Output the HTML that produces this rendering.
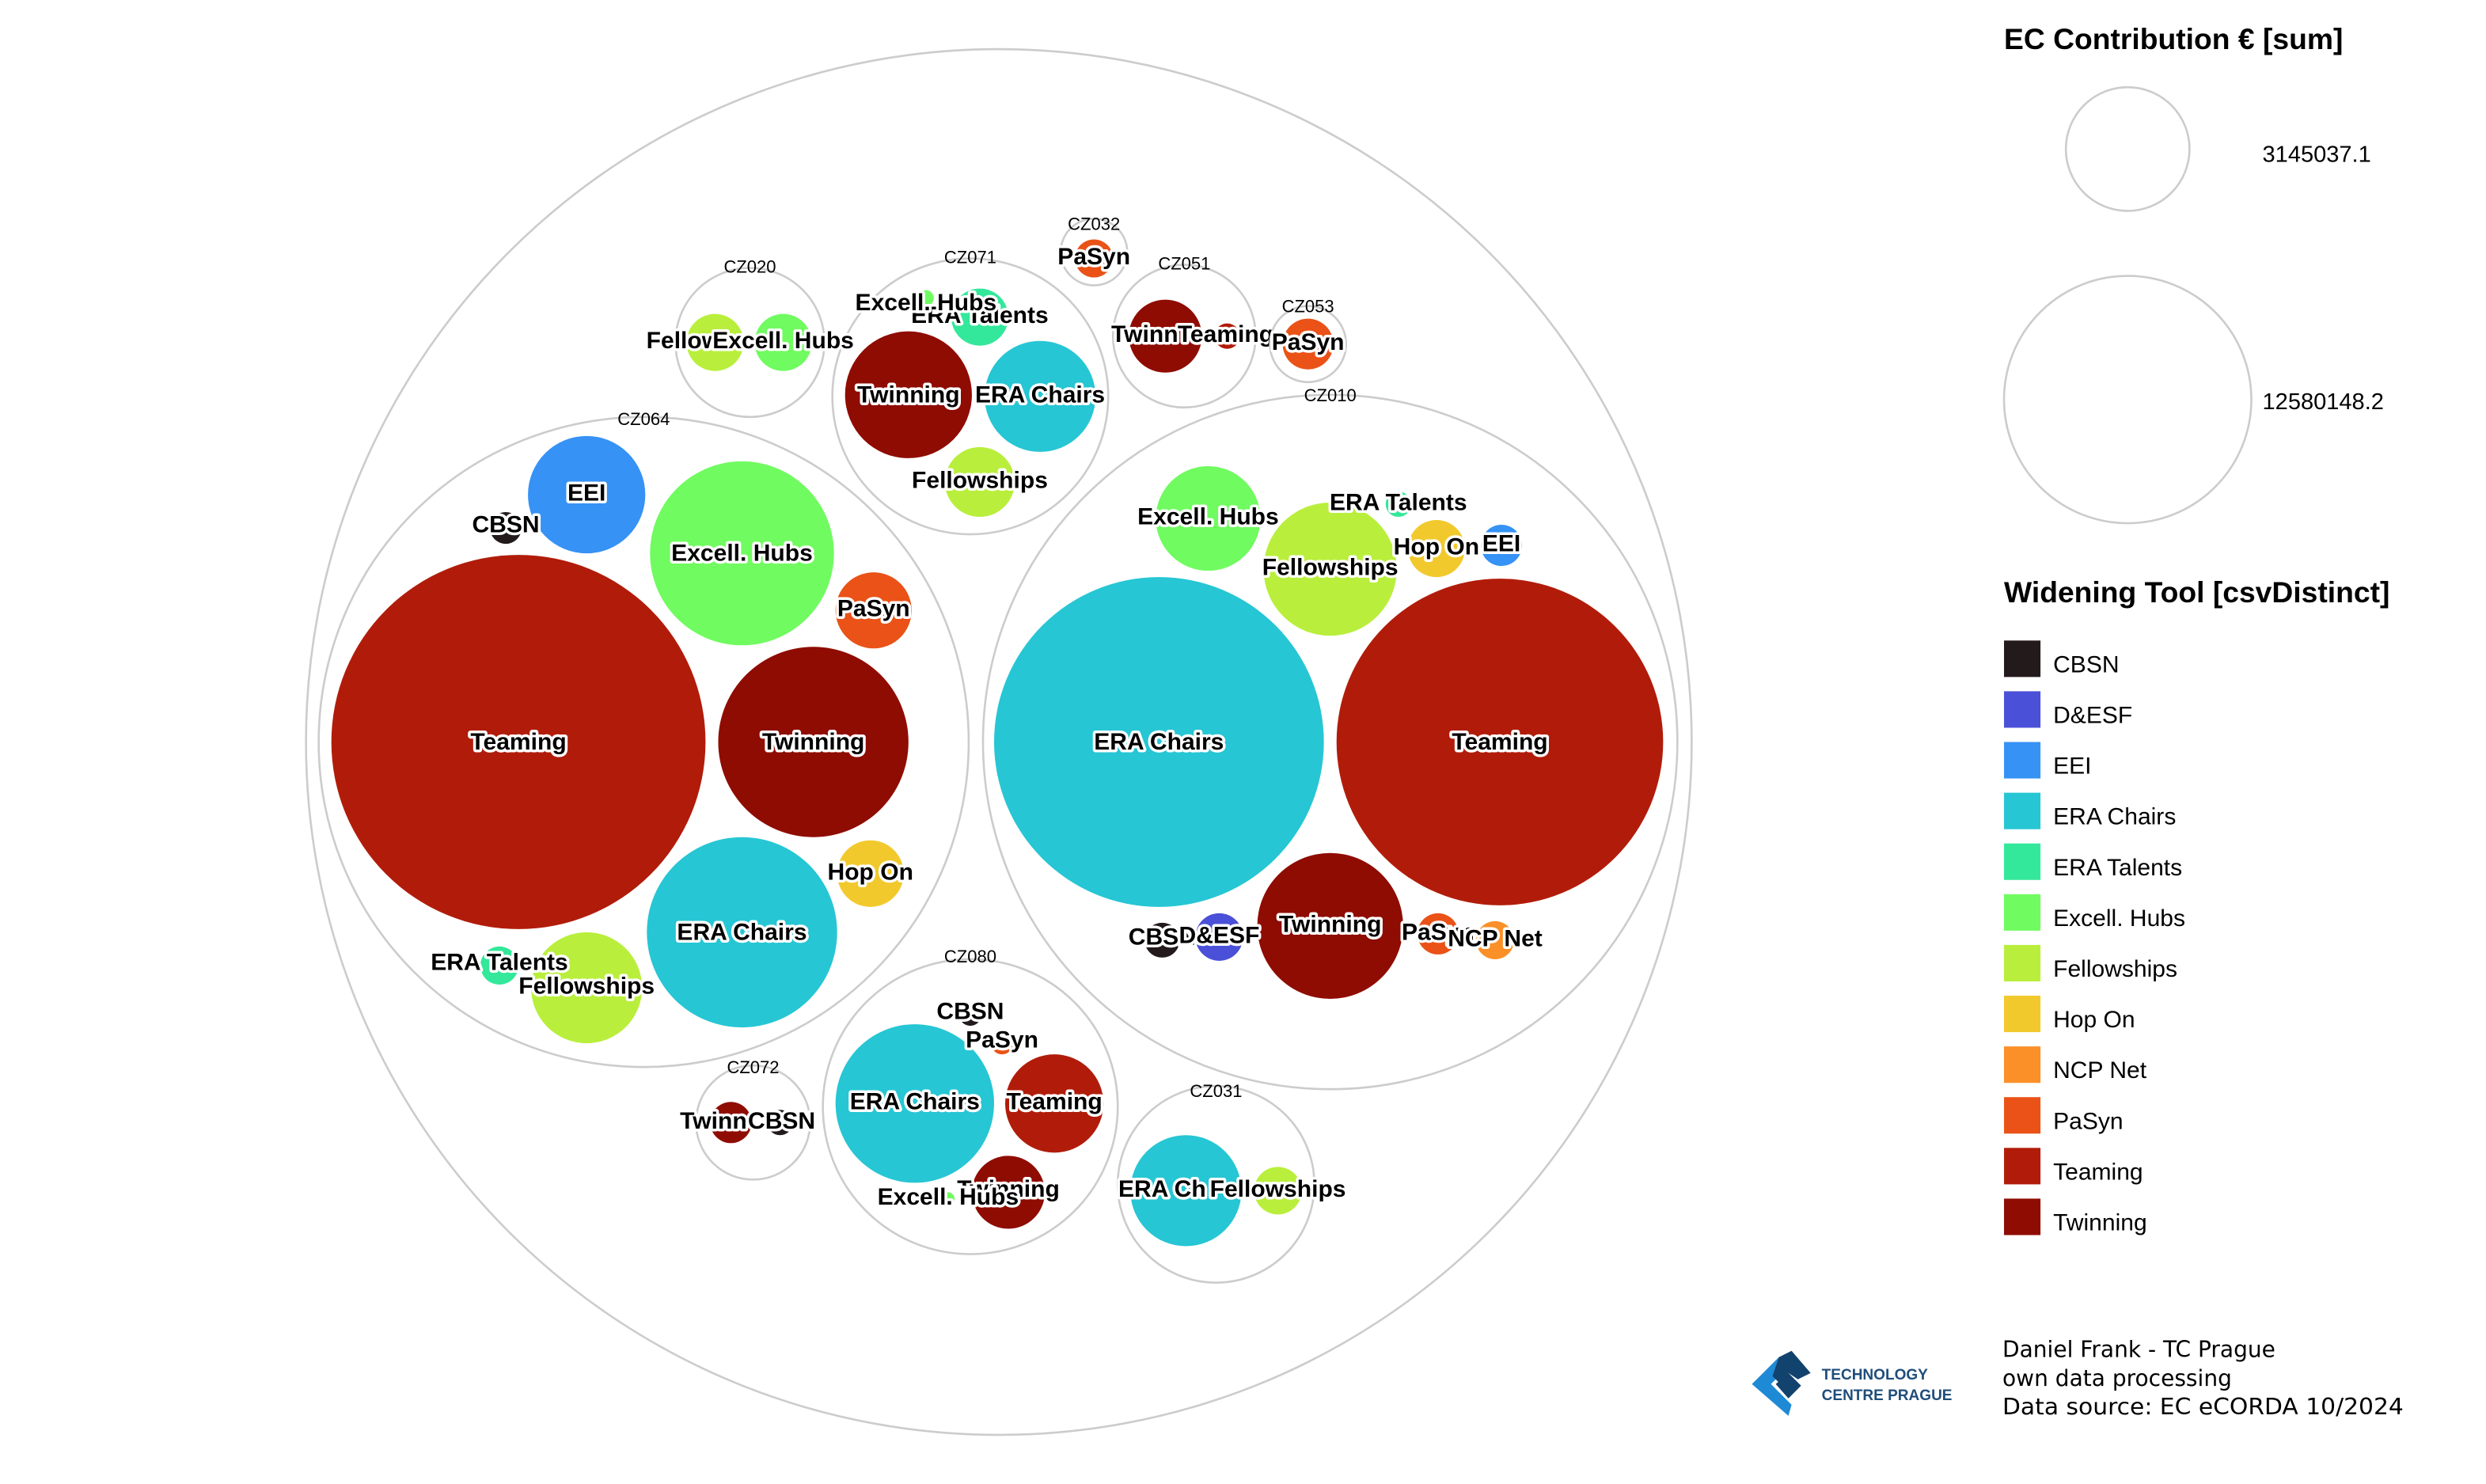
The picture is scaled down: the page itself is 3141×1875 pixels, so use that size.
<!DOCTYPE html>
<html><head><meta charset="utf-8"><style>
html,body{margin:0;padding:0;background:#fff;}
svg{display:block;}
.l{font-family:"Liberation Sans",Arial,sans-serif;font-weight:bold;font-size:15px;fill:#000;stroke:#fff;stroke-width:3.5px;paint-order:stroke;stroke-linejoin:round;text-anchor:middle;dominant-baseline:central;}
.g{font-family:"Liberation Sans",Arial,sans-serif;font-size:11px;fill:#000;text-anchor:middle;}
.o{fill:#fff;stroke:#ccc;stroke-width:1.3;}
.lg{font-family:"Liberation Sans",Arial,sans-serif;font-size:15px;fill:#000;}
.h{font-family:"Liberation Sans",Arial,sans-serif;font-size:18.6px;font-weight:bold;fill:#000;}
.f{font-family:"DejaVu Sans",sans-serif;font-size:14px;fill:#000;}
</style></head><body>
<svg width="3141" height="1875" viewBox="0 0 1568 936" preserveAspectRatio="none" xmlns="http://www.w3.org/2000/svg">
<rect width="1568" height="936" fill="#fff"/>
<circle class="o" cx="630" cy="468" r="437"/>
<!-- CZ064 -->
<circle class="o" cx="406" cy="468" r="205"/>
<text class="g" x="406" y="268">CZ064</text>
<circle cx="327" cy="468" r="118" fill="#b11c0a"/>
<circle cx="513" cy="468" r="60" fill="#8f0c02"/>
<circle cx="370" cy="312" r="37" fill="#3692f5"/>
<circle cx="319" cy="333" r="10" fill="#231a1c"/>
<circle cx="468" cy="349" r="58" fill="#70fb60"/>
<circle cx="551" cy="385" r="24" fill="#ea5217"/>
<circle cx="549" cy="551" r="21" fill="#f2c92d"/>
<circle cx="468" cy="588" r="60" fill="#26c6d4"/>
<circle cx="370" cy="623" r="35" fill="#b9ef3c"/>
<circle cx="315" cy="609" r="12" fill="#33e89a"/>
<text class="l" x="327" y="468">Teaming</text>
<text class="l" x="513" y="468">Twinning</text>
<text class="l" x="370" y="311">EEI</text>
<text class="l" x="319" y="331">CBSN</text>
<text class="l" x="468" y="349">Excell. Hubs</text>
<text class="l" x="551" y="384">PaSyn</text>
<text class="l" x="549" y="550">Hop On</text>
<text class="l" x="468" y="588">ERA Chairs</text>
<text class="l" x="315" y="607">ERA Talents</text>
<text class="l" x="370" y="622">Fellowships</text>
<!-- CZ010 -->
<circle class="o" cx="839" cy="468" r="219"/>
<text class="g" x="839" y="253">CZ010</text>
<circle cx="731" cy="468" r="104" fill="#26c6d4"/>
<circle cx="946" cy="468" r="103" fill="#b11c0a"/>
<circle cx="762" cy="327" r="33" fill="#70fb60"/>
<circle cx="839" cy="359" r="42" fill="#b9ef3c"/>
<circle cx="882" cy="318" r="8" fill="#33e89a"/>
<circle cx="906" cy="346" r="18" fill="#f2c92d"/>
<circle cx="947" cy="344" r="13" fill="#3692f5"/>
<circle cx="839" cy="584" r="46" fill="#8f0c02"/>
<circle cx="733" cy="593" r="11" fill="#231a1c"/>
<circle cx="769" cy="591" r="15" fill="#4a50d8"/>
<circle cx="907" cy="589" r="13" fill="#ea5217"/>
<circle cx="943" cy="593" r="12" fill="#fb9028"/>
<text class="l" x="731" y="468">ERA Chairs</text>
<text class="l" x="946" y="468">Teaming</text>
<text class="l" x="762" y="326">Excell. Hubs</text>
<text class="l" x="882" y="317">ERA Talents</text>
<text class="l" x="839" y="358">Fellowships</text>
<text class="l" x="906" y="345">Hop On</text>
<text class="l" x="947" y="343">EEI</text>
<text class="l" x="839" y="583">Twinning</text>
<text class="l" x="733" y="591">CBSN</text>
<text class="l" x="769" y="590">D&amp;ESF</text>
<text class="l" x="907" y="588">PaSyn</text>
<text class="l" x="943" y="592">NCP Net</text>
<!-- CZ071 -->
<circle class="o" cx="612" cy="250" r="87"/>
<text class="g" x="612" y="166">CZ071</text>
<circle cx="573" cy="249" r="40" fill="#8f0c02"/>
<circle cx="656" cy="250" r="35" fill="#26c6d4"/>
<circle cx="618" cy="304" r="22" fill="#b9ef3c"/>
<circle cx="618" cy="200" r="18" fill="#33e89a"/>
<circle cx="584" cy="188" r="5" fill="#70fb60"/>
<text class="l" x="618" y="199">ERA Talents</text>
<text class="l" x="584" y="191">Excell. Hubs</text>
<text class="l" x="573" y="249">Twinning</text>
<text class="l" x="656" y="249">ERA Chairs</text>
<text class="l" x="618" y="303">Fellowships</text>
<!-- CZ020 -->
<circle class="o" cx="473" cy="216" r="47"/>
<text class="g" x="473" y="172">CZ020</text>
<circle cx="451" cy="216" r="18" fill="#b9ef3c"/>
<circle cx="494" cy="216" r="18" fill="#70fb60"/>
<text class="l" x="431" y="215">Fellow</text>
<text class="l" x="494" y="215">Excell. Hubs</text>
<!-- CZ032 -->
<circle class="o" cx="690" cy="159" r="21"/>
<text class="g" x="690" y="145">CZ032</text>
<circle cx="690" cy="163" r="12" fill="#ea5217"/>
<text class="l" x="690" y="162">PaSyn</text>
<!-- CZ051 -->
<circle class="o" cx="747" cy="212" r="45"/>
<text class="g" x="747" y="170">CZ051</text>
<circle cx="735" cy="212" r="23" fill="#8f0c02"/>
<circle cx="774" cy="212" r="8" fill="#b11c0a"/>
<text class="l" x="722" y="211">Twinn</text>
<text class="l" x="773" y="211">Teaming</text>
<!-- CZ053 -->
<circle class="o" cx="825" cy="217" r="24"/>
<text class="g" x="825" y="197">CZ053</text>
<circle cx="825" cy="217" r="16" fill="#ea5217"/>
<text class="l" x="825" y="216">PaSyn</text>
<!-- CZ080 -->
<circle class="o" cx="612" cy="698" r="93"/>
<text class="g" x="612" y="607">CZ080</text>
<circle cx="577" cy="696" r="50" fill="#26c6d4"/>
<circle cx="665" cy="696" r="31" fill="#b11c0a"/>
<circle cx="636" cy="752" r="23" fill="#8f0c02"/>
<circle cx="612" cy="640" r="7" fill="#231a1c"/>
<circle cx="632" cy="658" r="7" fill="#ea5217"/>
<circle cx="598" cy="756" r="4" fill="#70fb60"/>
<text class="l" x="612" y="638">CBSN</text>
<text class="l" x="632" y="656">PaSyn</text>
<text class="l" x="577" y="695">ERA Chairs</text>
<text class="l" x="665" y="695">Teaming</text>
<text class="l" x="636" y="750">Twinning</text>
<text class="l" x="598" y="755">Excell. Hubs</text>
<!-- CZ072 -->
<circle class="o" cx="475" cy="708" r="36"/>
<text class="g" x="475" y="677">CZ072</text>
<circle cx="461" cy="708" r="13" fill="#8f0c02"/>
<circle cx="492" cy="708" r="8" fill="#231a1c"/>
<text class="l" x="450" y="707">Twinn</text>
<text class="l" x="493" y="707">CBSN</text>
<!-- CZ031 -->
<circle class="o" cx="767" cy="747" r="62"/>
<text class="g" x="767" y="692">CZ031</text>
<circle cx="748" cy="751" r="35" fill="#26c6d4"/>
<circle cx="806" cy="751" r="15" fill="#b9ef3c"/>
<text class="l" x="733" y="750">ERA Ch</text>
<text class="l" x="806" y="750">Fellowships</text>
<!-- Legend -->
<text class="h" x="1264" y="31">EC Contribution € [sum]</text>
<circle class="o" cx="1342" cy="94" r="39"/>
<text class="lg" x="1427" y="102" style="font-size:14.5px">3145037.1</text>
<circle class="o" cx="1342" cy="252" r="78"/>
<text class="lg" x="1427" y="258" style="font-size:14.5px">12580148.2</text>
<text class="h" x="1264" y="380">Widening Tool [csvDistinct]</text>
<g>
<rect x="1264" y="404" width="23" height="23" fill="#231a1c"/><text class="lg" x="1295" y="424">CBSN</text>
<rect x="1264" y="436" width="23" height="23" fill="#4a50d8"/><text class="lg" x="1295" y="456">D&amp;ESF</text>
<rect x="1264" y="468" width="23" height="23" fill="#3692f5"/><text class="lg" x="1295" y="488">EEI</text>
<rect x="1264" y="500" width="23" height="23" fill="#26c6d4"/><text class="lg" x="1295" y="520">ERA Chairs</text>
<rect x="1264" y="532" width="23" height="23" fill="#33e89a"/><text class="lg" x="1295" y="552">ERA Talents</text>
<rect x="1264" y="564" width="23" height="23" fill="#70fb60"/><text class="lg" x="1295" y="584">Excell. Hubs</text>
<rect x="1264" y="596" width="23" height="23" fill="#b9ef3c"/><text class="lg" x="1295" y="616">Fellowships</text>
<rect x="1264" y="628" width="23" height="23" fill="#f2c92d"/><text class="lg" x="1295" y="648">Hop On</text>
<rect x="1264" y="660" width="23" height="23" fill="#fb9028"/><text class="lg" x="1295" y="680">NCP Net</text>
<rect x="1264" y="692" width="23" height="23" fill="#ea5217"/><text class="lg" x="1295" y="712">PaSyn</text>
<rect x="1264" y="724" width="23" height="23" fill="#b11c0a"/><text class="lg" x="1295" y="744">Teaming</text>
<rect x="1264" y="756" width="23" height="23" fill="#8f0c02"/><text class="lg" x="1295" y="776">Twinning</text>
</g>
<!-- logo -->
<polygon points="1105,873 1122,856 1128,862 1117,873 1130,886 1128,893" fill="#1e8ad6"/>
<polygon points="1122,856 1130,852 1142,866 1134,870 1128,866 1124,874 1118,868" fill="#12426e"/>
<polygon points="1120,873 1128,866 1136,874 1128,882" fill="#12426e"/>
<text x="1149" y="870" style="font-family:'Liberation Sans',sans-serif;font-weight:bold;font-size:9.5px;fill:#1f4d7a">TECHNOLOGY</text>
<text x="1149" y="883" style="font-family:'Liberation Sans',sans-serif;font-weight:bold;font-size:9.5px;fill:#1f4d7a">CENTRE PRAGUE</text>
<text class="f" x="1263" y="856">Daniel Frank - TC Prague</text>
<text class="f" x="1263" y="874">own data processing</text>
<text class="f" x="1263" y="892" textLength="253" lengthAdjust="spacingAndGlyphs">Data source: EC eCORDA 10/2024</text>
</svg>
</body></html>
